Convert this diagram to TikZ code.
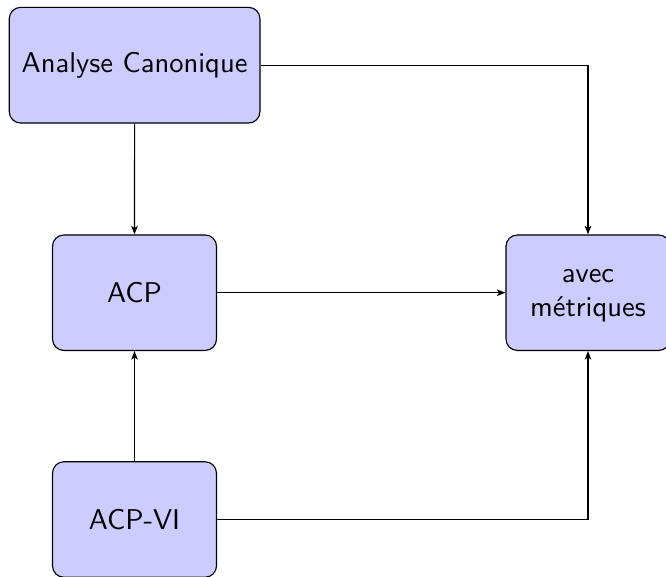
\documentclass[tikz,border=0pt]{standalone}
\usetikzlibrary{arrows.meta}
\usepackage{graphicx}
\tikzset{
  box/.style={draw=black, fill=blue!20, rounded corners=11.4pt, line width=1.14pt,
    minimum width=164pt, minimum height=115.5pt, inner sep=0pt},
  conn/.style={line width=1.14pt, -{Stealth[length=8.5pt,width=6.5pt,inset=2pt]}}
}
\newcommand{\lbl}[1]{\scalebox{2.86}{\sffamily #1}}
\begin{document}
\begin{tikzpicture}[x=1pt,y=-1pt]
  \useasboundingbox (0,0) rectangle (666,576);
  \node[box, minimum width=250.7pt, minimum height=115.7pt] (ac) at (134.6,65.2) {\lbl{Analyse Canonique}};
  \node[box] (acp) at (134.5,292.7) {\lbl{ACP}};
  \node[box] (acpvi) at (134.5,519.5) {\lbl{ACP-VI}};
  \node[box] (avec) at (588,292.7) {\lbl{\begin{tabular}{@{}c@{}}avec\\métriques\end{tabular}}};
  \draw[conn] (ac.east) -| (avec.north);
  \draw[conn] (ac.south) -- (acp.north);
  \draw[conn] (acp.east) -- (avec.west);
  \draw[conn] (acpvi.north) -- (acp.south);
  \draw[conn] (acpvi.east) -| (avec.south);
\end{tikzpicture}
\end{document}
